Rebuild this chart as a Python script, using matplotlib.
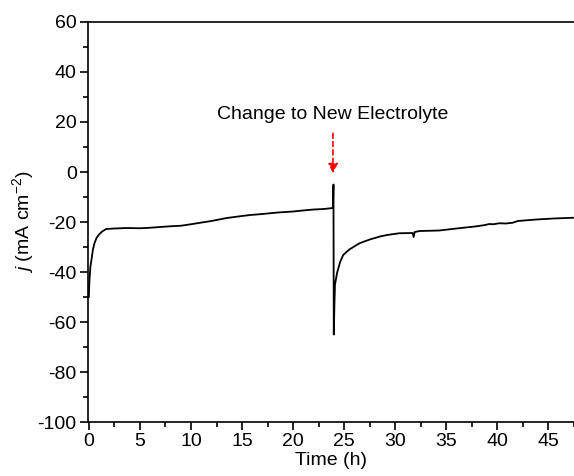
import matplotlib

matplotlib.use("Agg")
import matplotlib.pyplot as plt  # noqa: E402

# --- chronoamperometry trace ---------------------------------------------
time_h = [
    0.0, 0.05, 0.15, 0.26, 0.4, 0.55, 0.75, 1.0, 1.3, 1.7, 2.5, 3.7, 5.0,
    6.0, 7.0, 8.0, 9.0, 10.0, 10.9, 12.0, 13.5, 15.0, 15.8, 17.0, 18.5,
    20.0, 20.7, 22.0, 23.0, 23.9,
    # electrolyte swap: spike up, then down, then recovery
    23.95, 23.98, 24.05, 24.1, 24.3, 24.6, 24.9, 25.5, 26.5, 27.5, 28.5,
    29.2, 30.4, 31.7, 31.8, 31.9, 32.4, 34.3, 36.0, 38.0, 38.8, 39.2, 39.6,
    40.2, 40.8, 41.5, 42.0, 43.8, 45.5, 47.4,
]
current = [
    -50.0, -44.0, -38.0, -35.0, -31.0, -28.5, -26.4, -25.0, -23.8, -22.8,
    -22.6, -22.4, -22.5, -22.3, -22.0, -21.7, -21.5, -20.9, -20.3, -19.6,
    -18.4, -17.6, -17.2, -16.8, -16.2, -15.8, -15.5, -15.0, -14.8, -14.4,
    -5.0, -65.0, -52.0, -45.0, -40.4, -36.0, -33.2, -31.0, -28.5, -27.0,
    -25.8, -25.2, -24.5, -24.4, -26.0, -24.0, -23.6, -23.4, -22.6, -21.7,
    -21.2, -20.8, -20.9, -20.5, -20.6, -20.3, -19.6, -19.0, -18.6, -18.3,
]

x_ticks = [0, 5, 10, 15, 20, 25, 30, 35, 40, 45]
y_ticks = [-100, -80, -60, -40, -20, 0, 20, 40, 60]

swap_time = 23.9
note = "Change to New Electrolyte"

plt.rcParams.update({
    "font.family": ["Liberation Sans", "DejaVu Sans"],
    "font.size": 14,
    "axes.unicode_minus": False,
    "mathtext.fontset": "custom",
    "mathtext.rm": "Liberation Sans",
    "mathtext.it": "Liberation Sans:italic",
})

fig = plt.figure(figsize=(5.74, 4.76), dpi=100)
ax = fig.add_axes([0.153, 0.1134, 0.847, 0.8404])

ax.plot(time_h, current, color="black", lw=1.3, zorder=3)

# red dashed arrow pointing at the swap
ax.annotate("", xy=(swap_time, -0.5), xytext=(swap_time, 15.5),
            arrowprops=dict(arrowstyle="-|>", color="red", lw=1.2,
                            linestyle=(0, (3, 2)), mutation_scale=14,
                            shrinkA=0, shrinkB=0))
ax.text(swap_time, 23, note, ha="center", va="center", fontsize=14)

ax.set_xlim(-0.1, 47.4)
ax.set_ylim(-100, 60)
ax.set_xticks(x_ticks)
ax.set_yticks(y_ticks)
ax.set_xticks([t + 2.5 for t in x_ticks], minor=True)
ax.set_yticks([v + 10 for v in y_ticks[:-1]], minor=True)
ax.tick_params(which="major", direction="out", length=6, width=1.2,
               labelsize=14, pad=2)
ax.tick_params(which="minor", direction="out", length=3.5, width=1.2)
ax.tick_params(top=False, right=False, which="both")
ax.spines["right"].set_visible(False)
for s in ("left", "bottom", "top"):
    ax.spines[s].set_linewidth(1.2)

ax.set_xlabel("Time (h)", fontsize=14, labelpad=1)
ax.set_ylabel(r"$\it{j}$ (mA cm$^{-2}$)", fontsize=14, labelpad=1)

fig.savefig("out.png", dpi=100)
